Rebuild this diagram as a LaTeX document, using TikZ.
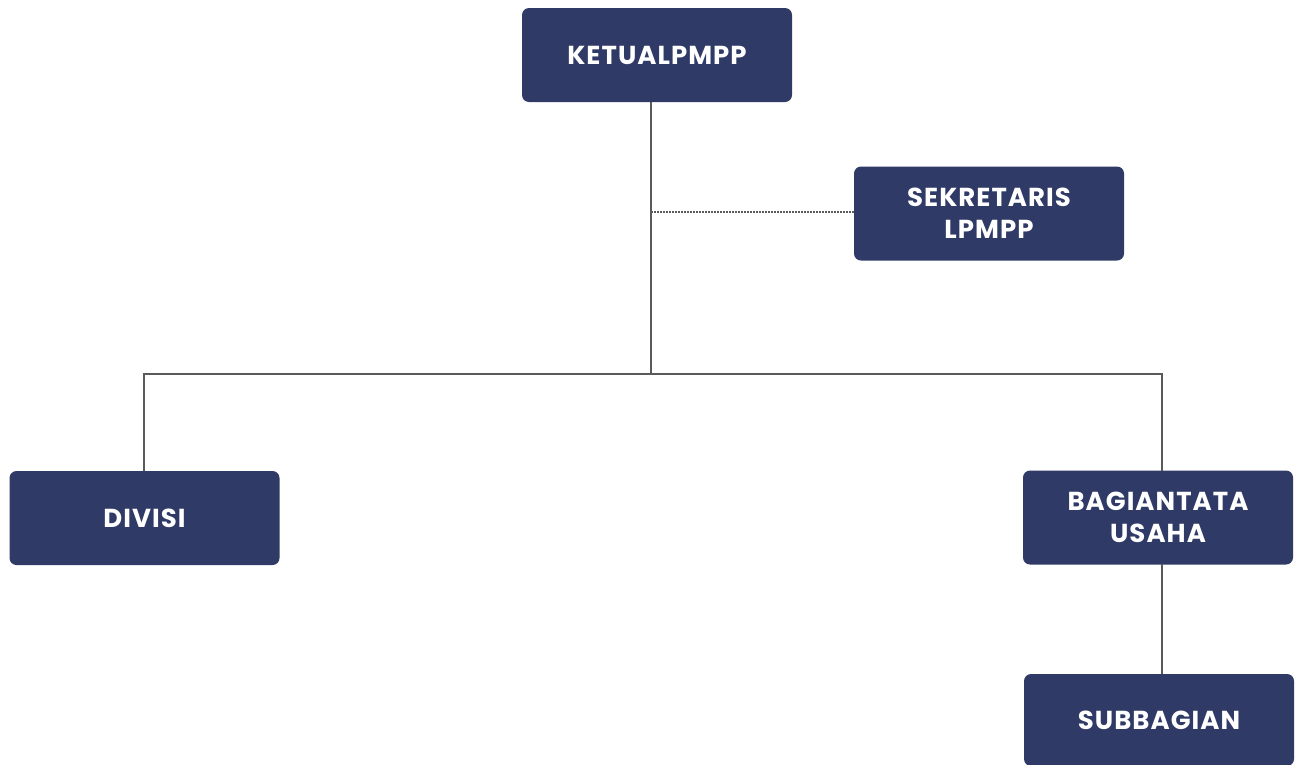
\documentclass[tikz,border=0pt]{standalone}
\usepackage{fontspec}
\setmainfont{Poppins}[LetterSpace=4]
\definecolor{navy}{HTML}{2F3A66}
\definecolor{linegray}{HTML}{5A5A5A}
\begin{document}
\begin{tikzpicture}[x=1pt,y=-1pt,
  box/.style={fill=navy,rounded corners=7pt,minimum width=270pt,minimum height=94pt,
    text=white,font=\fontsize{26pt}{32pt}\selectfont\bfseries,align=center,inner sep=0pt},
  conn/.style={draw=linegray,line width=1.3pt},
  dotconn/.style={draw=linegray,line width=1.6pt,dash pattern=on 1.6pt off 1.4pt}]
\useasboundingbox (0,0) rectangle (1301,764);
\node[box] (ketua) at (657,55) {KETUALPMPP};
\node[box] (sek) at (989,213.5) {SEKRETARIS\\LPMPP};
\node[box] (div) at (144.5,518) {DIVISI};
\node[box] (bag) at (1158,517.5) {BAGIANTATA\\USAHA};
\node[box, minimum height=92pt] (sub) at (1159,720) {SUBBAGIAN};
\coordinate (mid) at (651,374);
\coordinate (dj) at (651,212);
\draw[conn] (651,102) -- (mid);
\draw[dotconn] (dj) -- (sek.west |- dj);
\draw[conn] (mid) -- (144,374) -- (144,471);
\draw[conn] (mid) -- (1162,374) -- (1162,471);
\draw[conn] (1162,564) -- (1162,674);
\end{tikzpicture}
\end{document}
